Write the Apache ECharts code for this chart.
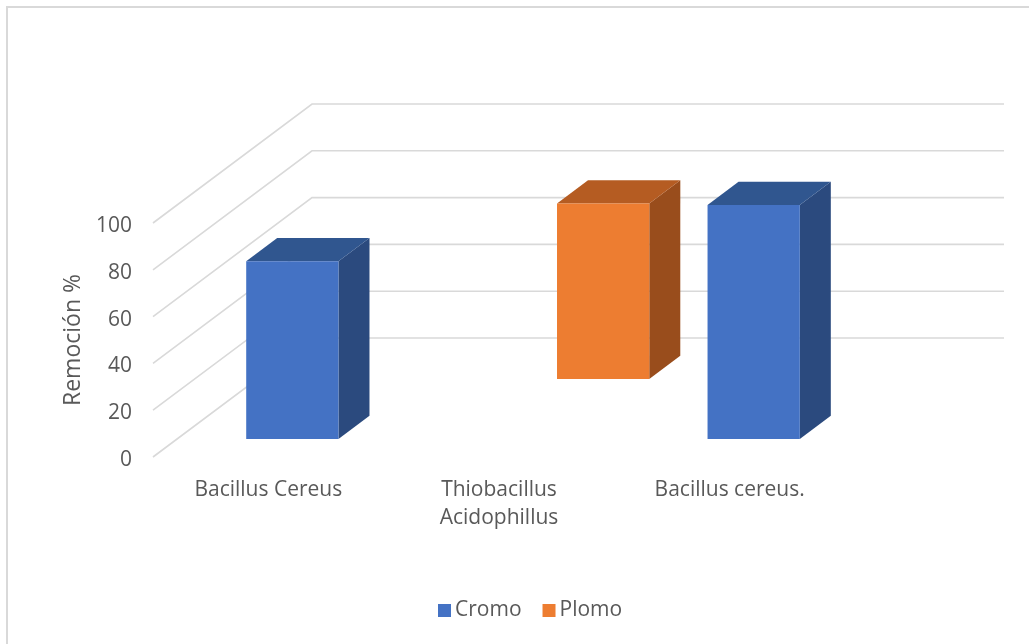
<!DOCTYPE html>
<html>
<head>
<meta charset="utf-8">
<script src="https://cdn.jsdelivr.net/npm/echarts@6/dist/echarts.min.js"></script>
<style>
    html, body { margin: 0; padding: 0; background: #fff; }
    #chart { width: 1029px; height: 644px; }
</style>
</head>
<body>
<div id="chart"></div>
<script>
const categories = ['Bacillus Cereus', 'Thiobacillus\nAcidophillus', 'Bacillus cereus.'];
const cromo = [76, null, 100];
const plomo = [null, 75, null];
const yTicks = [0, 20, 40, 60, 80, 100];

// depth vector of the 3d box (front plane -> back wall)
const DX = 159, DY = -119;
const FONT = 'Open Sans';
const TEXT = '#595959';

function toData(arr) {
    const out = [];
    arr.forEach(function(v, i) { if (v != null) out.push([i, v]); });
    return out;
}

function box3d(f0, f1, front, top, side) {
    return function(params, api) {
        const i = api.value(0), v = api.value(1);
        const base = api.coord([i, 0]);
        const tip = api.coord([i, v]);
        const w = api.size([1, 0])[0] * 0.4;
        const x0 = base[0] - w / 2 + DX * f0, x1 = x0 + w;
        const yb = base[1] + DY * f0, yt = tip[1] + DY * f0;
        const dx = DX * (f1 - f0), dy = DY * (f1 - f0);
        return {
            type: 'group',
            children: [
                { type: 'polygon', shape: { points: [[x1, yt], [x1, yb], [x1 + dx, yb + dy], [x1 + dx, yt + dy]] }, style: { fill: side } },
                { type: 'polygon', shape: { points: [[x0, yt], [x1, yt], [x1 + dx, yt + dy], [x0 + dx, yt + dy]] }, style: { fill: top } },
                { type: 'rect', shape: { x: x0, y: yt, width: w, height: yb - yt }, style: { fill: front } }
            ]
        };
    };
}

const chart = echarts.init(document.getElementById('chart'));
chart.setOption({
    animation: false,
    textStyle: { fontFamily: FONT },
    graphic: [{
        type: 'rect',
        shape: { x: 7, y: 7, width: 1100, height: 700 },
        style: { fill: 'none', stroke: '#d9d9d9', lineWidth: 2 },
        silent: true
    }],
    grid: { left: 153, right: 184, top: 223, bottom: 187 },
    legend: {
        data: ['Cromo', 'Plomo'],
        left: 433,
        top: 595,
        icon: 'rect',
        itemWidth: 13,
        itemHeight: 13,
        itemGap: 21,
        textStyle: { fontFamily: FONT, fontSize: 21, color: TEXT, padding: [0, 0, 0, -1] }
    },
    xAxis: {
        type: 'category',
        data: categories,
        axisLine: { show: false },
        axisTick: { show: false },
        axisLabel: { margin: 19, fontSize: 21, lineHeight: 28, color: TEXT, fontFamily: FONT }
    },
    yAxis: {
        type: 'value',
        min: 0,
        max: 100,
        interval: 20,
        axisLine: { show: false },
        axisTick: { show: false },
        splitLine: { show: false },
        axisLabel: { margin: 21, fontSize: 21, color: TEXT, fontFamily: FONT, verticalAlign: 'top', lineHeight: 6 },
        name: 'Remoción %',
        nameLocation: 'middle',
        nameGap: 68,
        nameTextStyle: { fontSize: 23, color: TEXT, fontFamily: FONT }
    },
    series: [
        {
            type: 'custom',
            name: 'grid3d',
            z: 1,
            silent: true,
            data: yTicks.map(function(v) { return [0, v]; }),
            renderItem: function(params, api) {
                const cs = params.coordSys;
                const y = api.coord([0, api.value(1)])[1];
                return {
                    type: 'polyline',
                    shape: { points: [[cs.x, y], [cs.x + DX, y + DY], [cs.x + cs.width + DX, y + DY]] },
                    style: { stroke: '#d9d9d9', lineWidth: 1.6, fill: null }
                };
            }
        },
        {
            type: 'custom',
            name: 'Plomo',
            z: 2,
            itemStyle: { color: '#ED7D31' },
            data: toData(plomo),
            renderItem: box3d(0.655, 0.85, '#ED7D31', '#B55C22', '#994D1C')
        },
        {
            type: 'custom',
            name: 'Cromo',
            z: 3,
            itemStyle: { color: '#4472C4' },
            data: toData(cromo),
            renderItem: box3d(0.151, 0.346, '#4472C4', '#30568F', '#2B4A7E')
        }
    ]
});
</script>
</body>
</html>
